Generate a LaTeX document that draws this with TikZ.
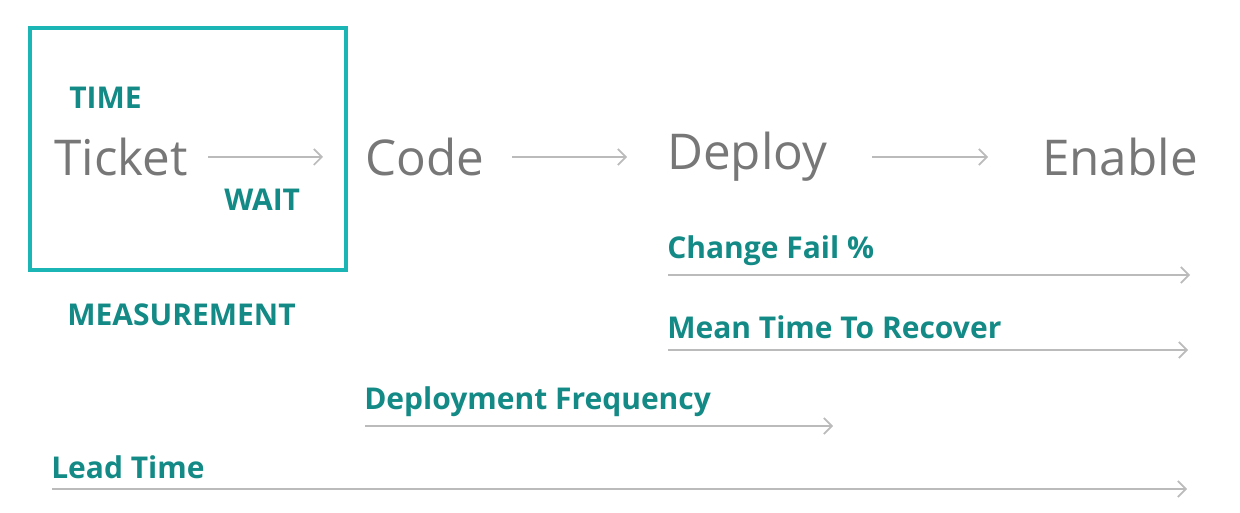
\documentclass[tikz,border=0pt]{standalone}
\usepackage{fontspec}
\setmainfont{Open Sans}
\usetikzlibrary{arrows.meta}
\definecolor{teal1}{HTML}{138A85}
\definecolor{cyan1}{HTML}{1BB5B5}
\definecolor{gray1}{HTML}{777777}
\definecolor{gray2}{HTML}{BBBBBB}
\begin{document}
\begin{tikzpicture}[x=0.75pt,y=-0.75pt,
  big/.style={font=\fontsize{37}{40}\selectfont, text=gray1, inner sep=0pt, anchor=west},
  lab/.style={font=\bfseries\fontsize{22.5}{26}\selectfont, text=teal1, inner sep=0pt, anchor=west},
  arr/.style={draw=gray2, line width=1.3pt, -{Straight Barb[length=6pt,width=12pt]}}]
\useasboundingbox (0,0) rectangle (1240,513);
\draw[cyan1, line width=3pt] (30,28) rectangle (346,270);
\node[lab] (time) at (69,98) {TIME};
\node[lab] (wait) at (224,200) {WAIT};
\node[lab] (meas) at (67,315) {MEASUREMENT};
\node[big] (ticket) at (54,157) {Ticket};
\node[big] (code) at (365,157) {Code};
\node[big] (deploy) at (667,157) {Deploy};
\node[big] (enable) at (1042,157) {Enable};
\coordinate (a1s) at (208,157); \coordinate (a1e) at (323,157);
\coordinate (a2s) at (512,157); \coordinate (a2e) at (627,157);
\coordinate (a3s) at (872,157); \coordinate (a3e) at (988,157);
\draw[arr] (a1s) -- (a1e);
\draw[arr] (a2s) -- (a2e);
\draw[arr] (a3s) -- (a3e);
\node[lab] (cf) at (667,251) {Change Fail \%};
\node[lab] (mttr) at (667,327) {Mean Time To Recover};
\node[lab] (df) at (364,402) {Deployment Frequency};
\node[lab] (lt) at (51,467) {Lead Time};
\coordinate (l1s) at (668,275); \coordinate (l1e) at (1190,275);
\coordinate (l2s) at (668,350); \coordinate (l2e) at (1188,350);
\coordinate (l3s) at (365,426); \coordinate (l3e) at (833,426);
\coordinate (l4s) at (52,489); \coordinate (l4e) at (1187,489);
\draw[arr] (l1s) -- (l1e);
\draw[arr] (l2s) -- (l2e);
\draw[arr] (l3s) -- (l3e);
\draw[arr] (l4s) -- (l4e);
\end{tikzpicture}
\end{document}
